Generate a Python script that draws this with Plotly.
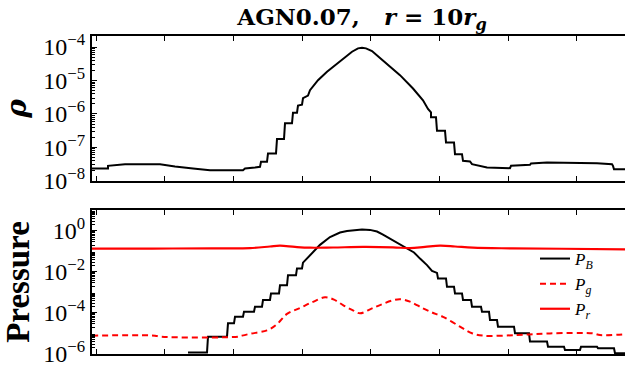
import numpy as np
import plotly.graph_objects as go

# ---------------- data (x in panel grid units, values as log10) ----------------
x_rho = [92, 108, 108, 125, 160, 175, 193, 210, 243, 245, 255, 260, 261, 267, 268, 276, 277,
         284, 285, 292, 293, 297, 298, 302, 303, 308, 310, 318, 327, 340, 352, 358, 362, 366,
         372, 380, 390, 400, 413, 423, 428, 431, 431, 436, 437, 445, 446, 454, 455, 462, 463,
         470, 472, 487, 510, 511, 530, 531, 547, 563, 597, 612, 613, 614, 625]
log_rho = [-7.63, -7.63, -7.55, -7.50, -7.50, -7.57, -7.63, -7.68, -7.68, -7.63, -7.60,
           -7.58, -7.43, -7.43, -7.18, -7.18, -6.75, -6.75, -6.28, -6.28, -5.96, -5.96,
           -5.75, -5.72, -5.53, -5.45, -5.29, -4.99, -4.74, -4.44, -4.14, -4.04, -4.02,
           -4.04, -4.12, -4.33, -4.58, -4.84, -5.24, -5.59, -5.85, -5.95, -6.10, -6.10,
           -6.50, -6.50, -6.85, -6.85, -7.20, -7.20, -7.40, -7.42, -7.50, -7.60, -7.62,
           -7.55, -7.52, -7.48, -7.45, -7.45, -7.47, -7.50, -7.55, -7.65, -7.65]

x_pb = [188, 207, 208, 227, 228, 234, 235, 243, 244, 254, 255, 262, 263, 270, 271, 279, 280,
        287, 288, 296, 297, 302, 303, 308, 313, 320, 330, 340, 347, 355, 362, 370, 377, 383,
        393, 400, 407, 414, 420, 427, 432, 437, 438, 446, 447, 454, 455, 462, 463, 471, 472,
        481, 482, 489, 490, 497, 498, 514, 515, 529, 530, 547, 548, 564, 565, 580, 581, 597,
        598, 614, 615, 625]
log_pb = [-5.93, -5.93, -5.16, -5.16, -4.51, -4.51, -4.19, -4.19, -3.94, -3.94, -3.70,
          -3.70, -3.37, -3.37, -3.05, -3.05, -2.65, -2.65, -2.16, -2.16, -1.83, -1.83,
          -1.55, -1.30, -1.03, -0.68, -0.30, -0.08, 0.00, 0.05, 0.07, 0.05, -0.03, -0.18,
          -0.46, -0.62, -0.82, -1.05, -1.35, -1.67, -1.95, -2.05, -2.32, -2.32, -2.73,
          -2.73, -3.05, -3.05, -3.37, -3.37, -3.70, -3.70, -3.94, -3.94, -4.35, -4.35,
          -4.67, -4.67, -4.99, -4.99, -5.40, -5.40, -5.65, -5.65, -5.81, -5.81, -5.65,
          -5.65, -5.73, -5.73, -5.97, -5.97]

x_pg = [92, 155, 160, 238, 242, 250, 267, 277, 287, 300, 313, 325, 334, 343, 352, 360, 371,
        380, 392, 400, 410, 423, 432, 443, 460, 472, 483, 517, 550, 593, 600, 625]
log_pg = [-5.11, -5.11, -5.16, -5.16, -5.11, -5.02, -4.85, -4.55, -4.05, -3.76, -3.46,
          -3.24, -3.35, -3.62, -3.85, -4.02, -3.80, -3.62, -3.40, -3.33, -3.45, -3.78,
          -3.98, -4.19, -4.67, -4.99, -5.11, -5.08, -5.00, -5.00, -5.08, -5.04]

x_pr = [92, 152, 212, 250, 270, 280, 295, 310, 333, 363, 393, 410, 425, 440, 455, 473, 512,
        562, 625]
log_pr = [-0.86, -0.86, -0.85, -0.84, -0.76, -0.72, -0.78, -0.82, -0.81, -0.78, -0.80,
          -0.84, -0.78, -0.72, -0.76, -0.82, -0.85, -0.87, -0.90]

title_text = "<b>AGN0.07,   <i>r</i> = 10<i>r<sub>g</sub></i></b>"
rho_ticks = [-8, -7, -6, -5, -4]
p_ticks = [-6, -4, -2, 0]

# ---------------- figure ----------------
W, H = 625, 366
fig = go.Figure()

fig.add_trace(go.Scatter(x=x_rho, y=10 ** np.array(log_rho), mode="lines",
                         line=dict(color="black", width=2), showlegend=False,
                         xaxis="x", yaxis="y"))

fig.add_trace(go.Scatter(x=x_pb, y=10 ** np.array(log_pb), mode="lines",
                         line=dict(color="black", width=2), name="<i>P<sub>B</sub></i>",
                         legendgroup="a", xaxis="x2", yaxis="y2"))
fig.add_trace(go.Scatter(x=x_pg, y=10 ** np.array(log_pg), mode="lines", line_shape="spline",
                         line=dict(color="red", width=2, dash="6px,4px"),
                         name="<i>P<sub>g</sub></i>", legendgroup="b",
                         xaxis="x2", yaxis="y2"))
fig.add_trace(go.Scatter(x=x_pr, y=10 ** np.array(log_pr), mode="lines", line_shape="spline",
                         line=dict(color="red", width=2.2), name="<i>P<sub>r</sub></i>",
                         legendgroup="c", xaxis="x2", yaxis="y2"))


def minor_vals(lo, hi):
    out = []
    for k in range(lo - 1, hi + 1):
        for m in range(2, 10):
            out.append(m * 10.0 ** k)
    return out


tickfont = dict(family="Liberation Serif", size=24, color="black")


def ticktxt(v):
    return "10<sup>" + str(v).replace("-", "\u2212") + "</sup>"


xcommon = dict(range=[92, 625], showline=True, linewidth=2, linecolor="black", mirror="ticks",
               ticks="inside", ticklen=5, tickwidth=1, tickcolor="black", automargin=False,
               tick0=96, dtick=68.7, showticklabels=False, showgrid=False, zeroline=False)

ycommon = dict(type="log", showline=True, linewidth=2, linecolor="black", mirror=False,
               ticks="inside", ticklen=5, tickwidth=1, tickcolor="black", showgrid=False,
               zeroline=False, tickfont=tickfont, automargin=False, ticklabeloverflow="allow",
               minor=dict(ticks="inside", ticklen=2.5, tickwidth=1, tickcolor="black",
                          showgrid=False))

fig.update_layout(
    width=W, height=H,
    margin=dict(l=0, r=0, t=0, b=0, autoexpand=False),
    paper_bgcolor="white", plot_bgcolor="white",
    xaxis=dict(domain=[92 / W, 1.0], anchor="y", **xcommon),
    xaxis2=dict(domain=[92 / W, 1.0], anchor="y2", **xcommon),
    yaxis=dict(domain=[1 - 181 / H, 1 - 36 / H], anchor="x", range=[-8.003, -3.67],
               tickvals=[10.0 ** v for v in rho_ticks],
               ticktext=[ticktxt(v) for v in rho_ticks],
               title=dict(text="<b><i>ρ</i></b>", standoff=10,
                          font=dict(family="DejaVu Serif", size=28, color="black")),
               **ycommon),
    yaxis2=dict(domain=[1 - 354 / H, 1 - 210 / H], anchor="x2", range=[-6.005, 1.02],
                tickvals=[10.0 ** v for v in p_ticks],
                ticktext=[ticktxt(v) for v in p_ticks],
                title=dict(text="<b>Pressure</b>", standoff=4,
                           font=dict(family="Liberation Serif", size=33, color="black")),
                **ycommon),
    title=dict(text=title_text, x=362 / W, xanchor="center", y=1 - 17 / H, yanchor="middle",
               font=dict(family="DejaVu Serif", size=23, color="black")),
    legend=dict(x=(535 - 92) / 533 * (1 - 92 / W) + 92 / W, xanchor="left",
                y=1 - 241 / H, yanchor="top", bgcolor="rgba(0,0,0,0)",
                font=dict(family="Liberation Serif", size=17, color="black"),
                itemwidth=30, tracegroupgap=0),
)

fig.layout.yaxis.minor.tickvals = minor_vals(-8, -4)
fig.layout.yaxis2.minor.tickvals = minor_vals(-6, 1)

fig.write_html("out.html")
